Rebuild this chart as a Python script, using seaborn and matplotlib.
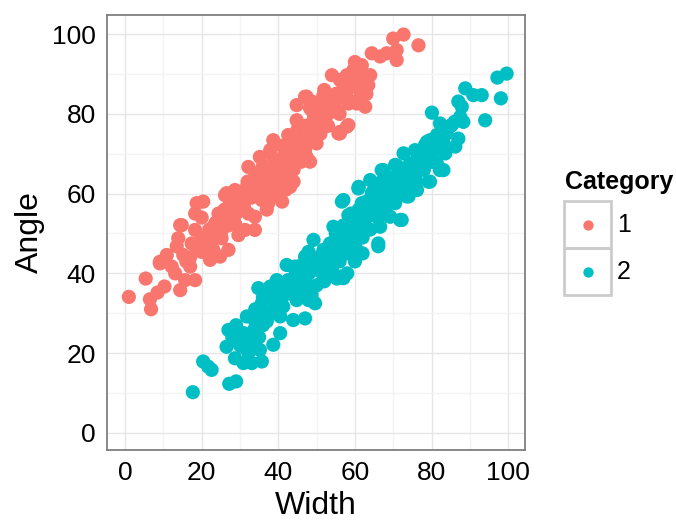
import matplotlib
matplotlib.use("Agg")
import matplotlib.pyplot as plt
from matplotlib.ticker import MultipleLocator
from matplotlib.patches import Rectangle
import seaborn as sns
import pandas as pd

# ---- data ----
cat1_width = [1.0, 5.4, 6.5, 6.8, 8.5, 10.3, 9.1, 10.9, 12.2, 13.1, 14.4, 15.7, 18.3, 14.8, 13.9,
              13.5, 15.2, 17.0, 17.4, 18.7, 20.4, 18.3, 18.3, 20.0, 20.0, 22.2, 22.2, 23.5, 24.8,
              27.0, 26.1, 24.4, 23.5, 26.1, 27.9, 25.2, 29.6, 28.7, 31.3, 33.9, 30.5, 32.2, 33.9,
              28.7, 31.3, 33.9, 35.7, 37.4, 36.6, 9.1, 14.4,
              26.5, 29.2, 31.8, 32.2, 34.4, 35.2, 37.0, 37.9, 38.7, 39.6, 41.3, 42.2, 43.1, 42.6,
              44.8, 45.7, 47.4, 48.3, 44.8, 47.4, 49.2, 51.8, 52.7, 50.9, 50.0, 55.3, 57.9, 60.5,
              55.3, 57.9, 56.1, 40.5, 33.5, 36.1, 27.4, 37.9, 43.9, 40.5, 46.5,
              72.7, 70.0, 76.6, 70.9, 70.9, 68.3, 66.6, 64.4, 61.8, 64.0, 63.5, 60.9, 59.6, 57.9,
              56.1, 54.0, 57.0, 55.3, 58.3, 62.7, 60.9, 58.3, 51.8, 47.0, 48.3, 50.0, 56.1, 55.7,
              48.3,
              38, 39, 40, 41, 42, 43, 44, 45, 46, 44, 42, 40, 39, 37, 36, 35, 34, 33, 36, 38, 41,
              43, 45, 47, 48, 49, 50, 51, 52, 53, 54, 49, 47, 46, 31, 30, 29, 28, 27, 26, 32, 34,
              36, 42, 44, 41, 39, 37, 25, 24, 22, 21, 23, 19, 17, 16, 20, 55, 56, 53, 51, 52, 49,
              58, 59, 61, 62, 60, 63]
cat1_angle = [34.1, 38.7, 33.5, 31.0, 35.2, 36.7, 42.9, 44.6, 41.7, 40.0, 35.8, 38.3, 38.3, 52.1, 48.8,
              46.8, 44.6, 41.7, 47.5, 57.6, 58.0, 55.0, 50.9, 48.4, 45.4, 43.4, 47.1, 50.0, 44.2,
              45.9, 59.6, 55.0, 52.5, 53.4, 56.7, 48.8, 49.6, 52.5, 50.9, 50.9, 56.7, 55.0, 54.2,
              60.9, 60.0, 62.2, 58.4, 57.6, 60.9, 42.5, 52.1,
              60.1, 58.4, 61.7, 66.7, 65.1, 69.2, 62.6, 59.3, 73.4, 66.7, 69.2, 64.3, 61.7, 74.7,
              78.4, 73.4, 69.2, 75.9, 82.2, 84.3, 80.1, 84.3, 81.0, 76.8, 72.6, 83.9, 84.3, 82.6,
              81.0, 76.8, 75.1, 60.9, 60.1, 58.4, 57.6, 70.9, 66.7, 64.3, 71.8,
              99.9, 98.9, 97.2, 96.0, 93.5, 95.2, 94.4, 95.2, 92.2, 89.7, 87.2, 86.4, 91.0, 89.7,
              88.5, 89.7, 87.2, 84.3, 82.6, 81.8, 83.5, 77.2, 84.7, 84.3, 81.4, 77.2, 75.5, 75.1,
              68.0,
              64, 68, 66, 67, 70, 68, 71, 70, 73, 66, 64, 62, 64, 66, 63, 61, 62, 59, 67, 70, 72,
              74, 76, 77, 74, 78, 80, 79, 82, 80, 83, 73, 71, 68, 57, 59, 55, 54, 52, 56, 63, 65,
              60, 61, 63, 58, 60, 56, 50, 53, 51, 49, 46, 46, 44, 43, 54, 85, 80, 77, 75, 86, 83,
              86, 88, 88, 90, 93, 85]

cat2_width = [17.7, 20.4, 22.6, 21.7, 27.2, 29.0, 27.0, 26.5, 28.7, 30.9, 33.1, 35.7, 35.2, 32.2,
              30.5, 30.0, 31.8, 33.9, 35.2, 32.6, 38.7, 40.5, 34.8, 35.7, 37.0, 38.7, 37.9, 39.6,
              40.5, 40.5, 42.2, 42.6, 41.3, 43.9, 44.8, 45.7, 44.4, 47.0, 47.9, 49.6, 48.3, 46.5,
              47.4, 49.2, 51.8, 50.9, 54.4, 55.3,
              44.4, 47.0, 49.2, 49.2, 51.8, 51.8, 54.4, 54.4, 56.1, 56.6, 58.3, 57.9, 59.6, 60.5,
              60.5, 61.0, 61.8, 63.1, 64.0, 64.4, 65.7, 66.1, 66.6, 67.4, 68.3, 69.2, 70.9, 72.2,
              72.7, 74.0, 74.4, 76.2, 76.2, 79.6, 78.8, 81.4, 47.9, 53.5,
              83.1, 71.8, 57.0, 60.9, 67.0, 83.6, 86.2, 78.8, 66.1, 57.0, 46.6, 48.7,
              99.6, 97.2, 98.1, 93.1, 90.9, 88.8, 94.0, 87.0, 87.9, 87.5, 88.3, 80.1, 82.2, 85.3,
              87.0, 84.0, 81.4, 79.6, 78.3, 80.5, 82.2, 75.7, 70.5, 74.4, 77.5, 79.2, 73.5, 70.5,
              67.4,
              50, 52, 53, 55, 56, 57, 58, 59, 60, 61, 62, 63, 64, 65, 66, 67, 68, 69, 70, 71, 72,
              73, 74, 75, 76, 77, 78, 79, 80, 81, 82, 83, 84, 85, 86, 54, 56, 58, 60, 62, 64, 66,
              68, 55, 57, 59, 61, 63, 65, 67, 69, 71, 48, 46, 45, 44, 43, 42, 41, 40, 39, 38, 37,
              36, 50, 52, 53, 51, 49, 47, 46, 48, 34, 33, 36, 38, 35, 31, 29, 28, 30, 33, 70, 72,
              74, 76, 78, 80, 58, 60, 62]
cat2_angle = [10.2, 17.9, 15.8, 16.6, 12.3, 12.9, 25.8, 21.6, 18.7, 17.5, 17.5, 17.9, 20.8, 20.0,
              21.6, 25.0, 29.2, 26.2, 28.3, 23.3, 22.1, 25.0, 36.3, 32.5, 30.0, 33.3, 36.7, 38.3,
              35.0, 29.2, 42.1, 38.3, 31.7, 28.3, 33.3, 37.5, 40.9, 28.7, 33.3, 32.5, 35.8, 39.2,
              44.2, 41.3, 39.6, 44.2, 42.5, 38.7,
              41.7, 44.2, 48.4, 40.9, 39.2, 45.9, 51.7, 43.4, 39.2, 58.0, 54.6, 49.2, 46.8, 45.9,
              52.5, 61.7, 57.6, 50.9, 63.4, 60.1, 55.9, 47.5, 51.7, 65.9, 60.1, 54.2, 64.3, 53.4,
              70.1, 59.3, 62.6, 60.9, 68.4, 63.0, 68.4, 67.6, 45.4, 47.5,
              65.9, 53.4, 58.4, 61.3, 65.9, 70.1, 71.8, 73.0, 46.8, 38.8, 38.3, 34.6,
              90.1, 89.1, 83.9, 84.7, 84.7, 86.4, 78.4, 83.1, 81.8, 79.3, 78.0, 80.3, 77.6, 77.2,
              73.8, 75.1, 74.7, 73.4, 72.2, 70.5, 65.9, 70.9, 67.2, 67.6, 68.4, 63.0, 59.3, 57.6,
              59.3,
              41, 43, 45, 46, 48, 47, 50, 49, 51, 53, 52, 54, 55, 57, 58, 57, 60, 61, 62, 63, 65,
              64, 66, 67, 65, 69, 70, 71, 72, 72, 74, 73, 76, 77, 78, 41, 43, 45, 47, 49, 51, 54,
              56, 50, 52, 55, 56, 58, 61, 63, 64, 67, 40, 42, 38, 36, 35, 37, 34, 33, 31, 30, 28,
              27, 37, 38, 41, 43, 44, 38, 36, 36, 31, 29, 34, 35, 24, 25, 27, 24, 22, 22, 58, 60,
              62, 63, 66, 68, 40, 43, 45]

categories = ["1", "2"]
colors = ["#F8766D", "#00BFC4"]
x_ticks = [0, 20, 40, 60, 80, 100]
y_ticks = [0, 20, 40, 60, 80, 100]

df = pd.DataFrame({
    "Width": cat1_width + cat2_width,
    "Angle": cat1_angle + cat2_angle,
    "Category": ["1"] * len(cat1_width) + ["2"] * len(cat2_width),
})

sns.set_theme(style="white")
plt.rcParams["font.family"] = ["Liberation Sans", "DejaVu Sans"]

fig = plt.figure(figsize=(6.76, 5.23), dpi=100)
ax = fig.add_axes([107 / 676, 1 - 450 / 523, (525 - 107) / 676, (450 - 15) / 523])

sns.scatterplot(data=df, x="Width", y="Angle", hue="Category", hue_order=categories,
                palette=colors, s=105, linewidth=0, alpha=1, legend=False, ax=ax, zorder=3)

ax.set_xlim(-4.7, 104.4)
ax.set_ylim(-4.3, 104.8)
ax.set_xticks(x_ticks)
ax.set_yticks(y_ticks)
ax.xaxis.set_minor_locator(MultipleLocator(10))
ax.yaxis.set_minor_locator(MultipleLocator(10))
ax.grid(True, which="major", color="#e6e6e6", linewidth=1.0, zorder=0)
ax.grid(True, which="minor", color="#f4f4f4", linewidth=1.0, zorder=0)
ax.set_axisbelow(True)
ax.set_facecolor("white")
for sp in ax.spines.values():
    sp.set_color("#7f7f7f")
    sp.set_linewidth(1.3)
ax.tick_params(axis="both", which="major", direction="out", length=5, width=1.0,
               color="#333333", labelsize=19, labelcolor="black", pad=3)
ax.tick_params(axis="both", which="minor", length=0)
ax.set_xlabel("Width", fontsize=23, labelpad=4, color="black")
ax.set_ylabel("Angle", fontsize=23, labelpad=5, color="black")

# legend
fig.text(565 / 676, 1 - 182 / 523, "Category", fontsize=18, fontweight="bold",
         ha="left", va="center", color="black")
leg = fig.add_axes([0, 0, 1, 1], facecolor="none")
leg.set_xlim(0, 676)
leg.set_ylim(523, 0)
leg.axis("off")
for i, (lab, col) in enumerate(zip(categories, colors)):
    y0 = 201 + i * 47
    leg.add_patch(Rectangle((564, y0), 47, 47, fill=False, edgecolor="#cccccc", linewidth=2))
    leg.scatter([587.5], [y0 + 23.5], s=55, color=col, linewidth=0)
    leg.text(617, y0 + 24, lab, fontsize=18, ha="left", va="center", color="black")

fig.savefig("out.png", dpi=100, facecolor="white")
